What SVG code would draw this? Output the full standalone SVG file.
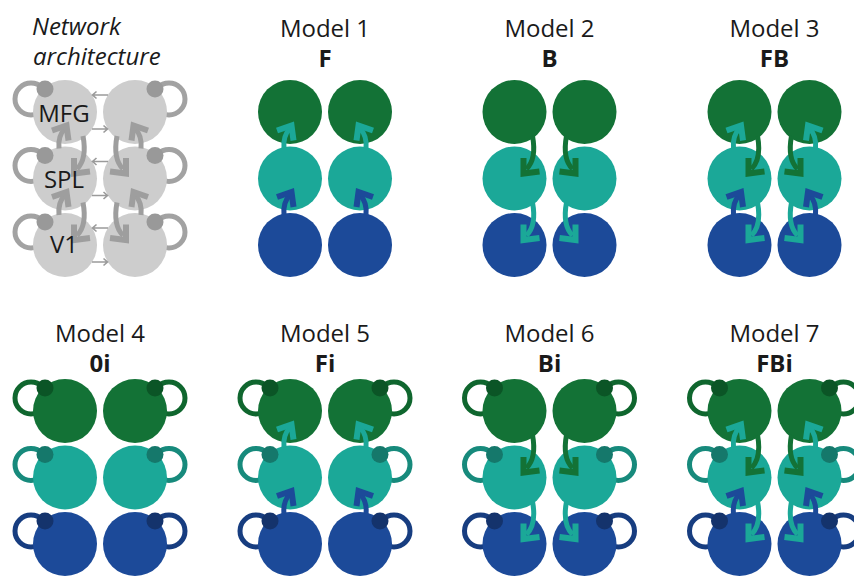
<svg xmlns="http://www.w3.org/2000/svg" xmlns:xlink="http://www.w3.org/1999/xlink" width="854" height="576" viewBox="0 0 854 576">
  <style>
    text { font-family: "Open Sans", "Liberation Sans", sans-serif; fill: #1a1a1a; font-size: 24px; }
    .title { text-anchor: middle; }
    .code { text-anchor: middle; font-weight: bold; }
    .head { font-style: italic; }
    .lab { text-anchor: middle; font-size: 24px; }
    .body { stroke: none; }
    .ring { fill: none; stroke-width: 5; }
    .gy .body { fill: #cdcdcd; } .gy .ring { stroke: #a2a2a2; } .gy .dot { fill: #999999; }
    .gn .body { fill: #137236; } .gn .ring { stroke: #0f662e; } .gn .dot { fill: #0b5526; }
    .tl .body { fill: #1ba898; } .tl .ring { stroke: #178a7c; } .tl .dot { fill: #15786b; }
    .bl .body { fill: #1c4a99; } .bl .ring { stroke: #173d80; } .bl .dot { fill: #14336c; }
    .arrow { fill: none; stroke: currentColor; stroke-width: 5; stroke-linejoin: miter; }
    .arrow .tip { stroke-width: 6; }
    .thin { fill: none; stroke: #9a9a9a; stroke-width: 1.6; }
    .cgy { color: #9e9e9e; } .cgn { color: #137236; } .ctl { color: #1ba898; } .cbl { color: #1c4a99; }
  </style>
  <defs>
    <!-- feedforward arrow, origin at centre of the lower (source) node -->
    <g id="arF" class="arrow">
      <path d="M-6,-30 C-7,-40 -4,-46 0,-50"/>
      <path class="tip" d="M-13,-48 L1.5,-53 L3.5,-38"/>
    </g>
    <!-- feedback arrow, origin at centre of the upper (source) node -->
    <g id="arB" class="arrow">
      <path d="M18,24 C21,40 19,50 12,57"/>
      <path class="tip" d="M9,46 L9,61.5 L25,59.5"/>
    </g>
    <!-- small lateral arrow, pointing left -->
    <g id="arH" class="thin">
      <path d="M8,0 H-7 M-3.5,-3.5 L-7.5,0 L-3.5,3.5"/>
    </g>
  </defs>

  <!-- headings -->
  <g id="titles">
    <text class="head" x="32" y="35">Network</text>
    <text class="head" x="33" y="65">architecture</text>
    <text class="title" x="325" y="37">Model 1</text>
    <text class="code" x="325" y="67">F</text>
    <text class="title" x="549.5" y="37">Model 2</text>
    <text class="code" x="549.5" y="67">B</text>
    <text class="title" x="774.5" y="37">Model 3</text>
    <text class="code" x="774.5" y="67">FB</text>
    <text class="title" x="100" y="342">Model 4</text>
    <text class="code" x="100" y="372">0i</text>
    <text class="title" x="325" y="342">Model 5</text>
    <text class="code" x="325" y="372">Fi</text>
    <text class="title" x="549.5" y="342">Model 6</text>
    <text class="code" x="549.5" y="372">Bi</text>
    <text class="title" x="774.5" y="342">Model 7</text>
    <text class="code" x="774.5" y="372">FBi</text>
  </g>

  <!-- network architecture (grey) -->
  <g id="net-mfg-l" class="gy"><circle class="ring" cx="31" cy="99" r="16"/><circle class="body" cx="65" cy="112" r="32"/><circle class="dot" cx="45" cy="89" r="8.5"/></g>
  <g id="net-mfg-r" class="gy"><circle class="ring" cx="169" cy="99" r="16"/><circle class="body" cx="135" cy="112" r="32"/><circle class="dot" cx="155" cy="89" r="8.5"/></g>
  <g id="net-spl-l" class="gy"><circle class="ring" cx="31" cy="165.5" r="16"/><circle class="body" cx="65" cy="178.5" r="32"/><circle class="dot" cx="45" cy="155.5" r="8.5"/></g>
  <g id="net-spl-r" class="gy"><circle class="ring" cx="169" cy="165.5" r="16"/><circle class="body" cx="135" cy="178.5" r="32"/><circle class="dot" cx="155" cy="155.5" r="8.5"/></g>
  <g id="net-v1-l" class="gy"><circle class="ring" cx="31" cy="232" r="16"/><circle class="body" cx="65" cy="245" r="32"/><circle class="dot" cx="45" cy="222" r="8.5"/></g>
  <g id="net-v1-r" class="gy"><circle class="ring" cx="169" cy="232" r="16"/><circle class="body" cx="135" cy="245" r="32"/><circle class="dot" cx="155" cy="222" r="8.5"/></g>

  <!-- model 1 -->
  <g id="m1-mfg-l" class="gn"><circle class="body" cx="290" cy="112" r="32"/></g>
  <g id="m1-mfg-r" class="gn"><circle class="body" cx="360" cy="112" r="32"/></g>
  <g id="m1-spl-l" class="tl"><circle class="body" cx="290" cy="178.5" r="32"/></g>
  <g id="m1-spl-r" class="tl"><circle class="body" cx="360" cy="178.5" r="32"/></g>
  <g id="m1-v1-l" class="bl"><circle class="body" cx="290" cy="245" r="32"/></g>
  <g id="m1-v1-r" class="bl"><circle class="body" cx="360" cy="245" r="32"/></g>

  <!-- model 2 -->
  <g id="m2-mfg-l" class="gn"><circle class="body" cx="514.5" cy="112" r="32"/></g>
  <g id="m2-mfg-r" class="gn"><circle class="body" cx="584.5" cy="112" r="32"/></g>
  <g id="m2-spl-l" class="tl"><circle class="body" cx="514.5" cy="178.5" r="32"/></g>
  <g id="m2-spl-r" class="tl"><circle class="body" cx="584.5" cy="178.5" r="32"/></g>
  <g id="m2-v1-l" class="bl"><circle class="body" cx="514.5" cy="245" r="32"/></g>
  <g id="m2-v1-r" class="bl"><circle class="body" cx="584.5" cy="245" r="32"/></g>

  <!-- model 3 -->
  <g id="m3-mfg-l" class="gn"><circle class="body" cx="739.5" cy="112" r="32"/></g>
  <g id="m3-mfg-r" class="gn"><circle class="body" cx="809.5" cy="112" r="32"/></g>
  <g id="m3-spl-l" class="tl"><circle class="body" cx="739.5" cy="178.5" r="32"/></g>
  <g id="m3-spl-r" class="tl"><circle class="body" cx="809.5" cy="178.5" r="32"/></g>
  <g id="m3-v1-l" class="bl"><circle class="body" cx="739.5" cy="245" r="32"/></g>
  <g id="m3-v1-r" class="bl"><circle class="body" cx="809.5" cy="245" r="32"/></g>

  <!-- model 4 -->
  <g id="m4-mfg-l" class="gn"><circle class="ring" cx="31" cy="398" r="16"/><circle class="body" cx="65" cy="411" r="32"/><circle class="dot" cx="45" cy="388" r="8.5"/></g>
  <g id="m4-mfg-r" class="gn"><circle class="ring" cx="169" cy="398" r="16"/><circle class="body" cx="135" cy="411" r="32"/><circle class="dot" cx="155" cy="388" r="8.5"/></g>
  <g id="m4-spl-l" class="tl"><circle class="ring" cx="31" cy="464.5" r="16"/><circle class="body" cx="65" cy="477.5" r="32"/><circle class="dot" cx="45" cy="454.5" r="8.5"/></g>
  <g id="m4-spl-r" class="tl"><circle class="ring" cx="169" cy="464.5" r="16"/><circle class="body" cx="135" cy="477.5" r="32"/><circle class="dot" cx="155" cy="454.5" r="8.5"/></g>
  <g id="m4-v1-l" class="bl"><circle class="ring" cx="31" cy="531" r="16"/><circle class="body" cx="65" cy="544" r="32"/><circle class="dot" cx="45" cy="521" r="8.5"/></g>
  <g id="m4-v1-r" class="bl"><circle class="ring" cx="169" cy="531" r="16"/><circle class="body" cx="135" cy="544" r="32"/><circle class="dot" cx="155" cy="521" r="8.5"/></g>

  <!-- model 5 -->
  <g id="m5-mfg-l" class="gn"><circle class="ring" cx="256" cy="398" r="16"/><circle class="body" cx="290" cy="411" r="32"/><circle class="dot" cx="270" cy="388" r="8.5"/></g>
  <g id="m5-mfg-r" class="gn"><circle class="ring" cx="394" cy="398" r="16"/><circle class="body" cx="360" cy="411" r="32"/><circle class="dot" cx="380" cy="388" r="8.5"/></g>
  <g id="m5-spl-l" class="tl"><circle class="ring" cx="256" cy="464.5" r="16"/><circle class="body" cx="290" cy="477.5" r="32"/><circle class="dot" cx="270" cy="454.5" r="8.5"/></g>
  <g id="m5-spl-r" class="tl"><circle class="ring" cx="394" cy="464.5" r="16"/><circle class="body" cx="360" cy="477.5" r="32"/><circle class="dot" cx="380" cy="454.5" r="8.5"/></g>
  <g id="m5-v1-l" class="bl"><circle class="ring" cx="256" cy="531" r="16"/><circle class="body" cx="290" cy="544" r="32"/><circle class="dot" cx="270" cy="521" r="8.5"/></g>
  <g id="m5-v1-r" class="bl"><circle class="ring" cx="394" cy="531" r="16"/><circle class="body" cx="360" cy="544" r="32"/><circle class="dot" cx="380" cy="521" r="8.5"/></g>

  <!-- model 6 -->
  <g id="m6-mfg-l" class="gn"><circle class="ring" cx="480.5" cy="398" r="16"/><circle class="body" cx="514.5" cy="411" r="32"/><circle class="dot" cx="494.5" cy="388" r="8.5"/></g>
  <g id="m6-mfg-r" class="gn"><circle class="ring" cx="618.5" cy="398" r="16"/><circle class="body" cx="584.5" cy="411" r="32"/><circle class="dot" cx="604.5" cy="388" r="8.5"/></g>
  <g id="m6-spl-l" class="tl"><circle class="ring" cx="480.5" cy="464.5" r="16"/><circle class="body" cx="514.5" cy="477.5" r="32"/><circle class="dot" cx="494.5" cy="454.5" r="8.5"/></g>
  <g id="m6-spl-r" class="tl"><circle class="ring" cx="618.5" cy="464.5" r="16"/><circle class="body" cx="584.5" cy="477.5" r="32"/><circle class="dot" cx="604.5" cy="454.5" r="8.5"/></g>
  <g id="m6-v1-l" class="bl"><circle class="ring" cx="480.5" cy="531" r="16"/><circle class="body" cx="514.5" cy="544" r="32"/><circle class="dot" cx="494.5" cy="521" r="8.5"/></g>
  <g id="m6-v1-r" class="bl"><circle class="ring" cx="618.5" cy="531" r="16"/><circle class="body" cx="584.5" cy="544" r="32"/><circle class="dot" cx="604.5" cy="521" r="8.5"/></g>

  <!-- model 7 -->
  <g id="m7-mfg-l" class="gn"><circle class="ring" cx="705.5" cy="398" r="16"/><circle class="body" cx="739.5" cy="411" r="32"/><circle class="dot" cx="719.5" cy="388" r="8.5"/></g>
  <g id="m7-mfg-r" class="gn"><circle class="ring" cx="843.5" cy="398" r="16"/><circle class="body" cx="809.5" cy="411" r="32"/><circle class="dot" cx="829.5" cy="388" r="8.5"/></g>
  <g id="m7-spl-l" class="tl"><circle class="ring" cx="705.5" cy="464.5" r="16"/><circle class="body" cx="739.5" cy="477.5" r="32"/><circle class="dot" cx="719.5" cy="454.5" r="8.5"/></g>
  <g id="m7-spl-r" class="tl"><circle class="ring" cx="843.5" cy="464.5" r="16"/><circle class="body" cx="809.5" cy="477.5" r="32"/><circle class="dot" cx="829.5" cy="454.5" r="8.5"/></g>
  <g id="m7-v1-l" class="bl"><circle class="ring" cx="705.5" cy="531" r="16"/><circle class="body" cx="739.5" cy="544" r="32"/><circle class="dot" cx="719.5" cy="521" r="8.5"/></g>
  <g id="m7-v1-r" class="bl"><circle class="ring" cx="843.5" cy="531" r="16"/><circle class="body" cx="809.5" cy="544" r="32"/><circle class="dot" cx="829.5" cy="521" r="8.5"/></g>

  <!-- connectors -->
  <g id="connectors">
    <!-- network architecture: feedforward, feedback and lateral links -->
    <use href="#arF" class="cgy" transform="translate(65,178.5)"/>
    <use href="#arF" class="cgy" transform="translate(65,245)"/>
    <use href="#arF" class="cgy" transform="translate(135,178.5) scale(-1,1)"/>
    <use href="#arF" class="cgy" transform="translate(135,245) scale(-1,1)"/>
    <use href="#arB" class="cgy" transform="translate(65,112)"/>
    <use href="#arB" class="cgy" transform="translate(65,178.5)"/>
    <use href="#arB" class="cgy" transform="translate(135,112) scale(-1,1)"/>
    <use href="#arB" class="cgy" transform="translate(135,178.5) scale(-1,1)"/>
    <use href="#arH" transform="translate(100,95)"/>
    <use href="#arH" transform="translate(100,129) scale(-1,1)"/>
    <use href="#arH" transform="translate(100,161.5)"/>
    <use href="#arH" transform="translate(100,195.5) scale(-1,1)"/>
    <use href="#arH" transform="translate(100,228)"/>
    <use href="#arH" transform="translate(100,262) scale(-1,1)"/>

    <!-- model 1 -->
    <use href="#arF" class="ctl" transform="translate(290,178.5)"/>
    <use href="#arF" class="cbl" transform="translate(290,245)"/>
    <use href="#arF" class="ctl" transform="translate(360,178.5) scale(-1,1)"/>
    <use href="#arF" class="cbl" transform="translate(360,245) scale(-1,1)"/>

    <!-- model 2 -->
    <use href="#arB" class="cgn" transform="translate(514.5,112)"/>
    <use href="#arB" class="ctl" transform="translate(514.5,178.5)"/>
    <use href="#arB" class="cgn" transform="translate(584.5,112) scale(-1,1)"/>
    <use href="#arB" class="ctl" transform="translate(584.5,178.5) scale(-1,1)"/>

    <!-- model 3 -->
    <use href="#arF" class="ctl" transform="translate(739.5,178.5)"/>
    <use href="#arF" class="cbl" transform="translate(739.5,245)"/>
    <use href="#arF" class="ctl" transform="translate(809.5,178.5) scale(-1,1)"/>
    <use href="#arF" class="cbl" transform="translate(809.5,245) scale(-1,1)"/>
    <use href="#arB" class="cgn" transform="translate(739.5,112)"/>
    <use href="#arB" class="ctl" transform="translate(739.5,178.5)"/>
    <use href="#arB" class="cgn" transform="translate(809.5,112) scale(-1,1)"/>
    <use href="#arB" class="ctl" transform="translate(809.5,178.5) scale(-1,1)"/>

    <!-- model 5 -->
    <use href="#arF" class="ctl" transform="translate(290,477.5)"/>
    <use href="#arF" class="cbl" transform="translate(290,544)"/>
    <use href="#arF" class="ctl" transform="translate(360,477.5) scale(-1,1)"/>
    <use href="#arF" class="cbl" transform="translate(360,544) scale(-1,1)"/>

    <!-- model 6 -->
    <use href="#arB" class="cgn" transform="translate(514.5,411)"/>
    <use href="#arB" class="ctl" transform="translate(514.5,477.5)"/>
    <use href="#arB" class="cgn" transform="translate(584.5,411) scale(-1,1)"/>
    <use href="#arB" class="ctl" transform="translate(584.5,477.5) scale(-1,1)"/>

    <!-- model 7 -->
    <use href="#arF" class="ctl" transform="translate(739.5,477.5)"/>
    <use href="#arF" class="cbl" transform="translate(739.5,544)"/>
    <use href="#arF" class="ctl" transform="translate(809.5,477.5) scale(-1,1)"/>
    <use href="#arF" class="cbl" transform="translate(809.5,544) scale(-1,1)"/>
    <use href="#arB" class="cgn" transform="translate(739.5,411)"/>
    <use href="#arB" class="ctl" transform="translate(739.5,477.5)"/>
    <use href="#arB" class="cgn" transform="translate(809.5,411) scale(-1,1)"/>
    <use href="#arB" class="ctl" transform="translate(809.5,477.5) scale(-1,1)"/>
  </g>

  <!-- area names on the grey network, drawn above the links -->
  <g id="area-labels">
    <text class="lab" x="64" y="122">MFG</text>
    <text class="lab" x="64" y="188">SPL</text>
    <text class="lab" x="64" y="253">V1</text>
  </g>
</svg>
